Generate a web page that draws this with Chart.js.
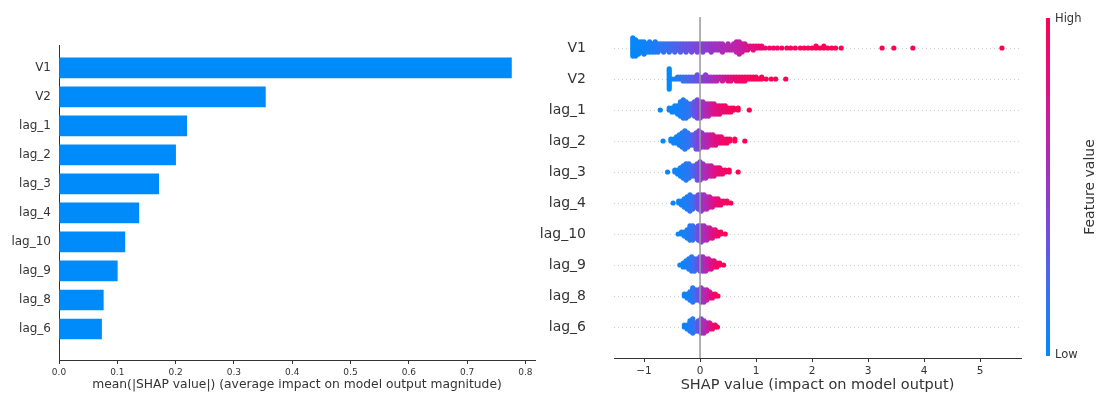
<!DOCTYPE html>
<html>
<head>
<meta charset="utf-8">
<script src="https://cdn.jsdelivr.net/npm/chart.js@4.4.1/dist/chart.umd.min.js"></script>
<style>
  html, body { margin: 0; padding: 0; background: #fff; }
  #wrap { position: relative; width: 1100px; height: 394px; overflow: hidden; background: #fff; }
  #bar { position: absolute; left: 0; top: 0; }
  #swarm { position: absolute; left: 530px; top: 0; }
</style>
</head>
<body>
<div id="wrap">
  <canvas id="bar" width="545" height="394"></canvas>
  <canvas id="swarm" width="570" height="394"></canvas>
</div>
<script>
// Features, in order of importance
const features = ['V1', 'V2', 'lag_1', 'lag_2', 'lag_3', 'lag_4', 'lag_10', 'lag_9', 'lag_8', 'lag_6'];

// mean(|SHAP value|) per feature
const meanAbsShap = [0.776, 0.354, 0.219, 0.200, 0.171, 0.137, 0.113, 0.100, 0.076, 0.073];

// Beeswarm rows: SHAP value of each column of dots, how many dots are stacked there,
// and the (normalised) feature value that colours them.
const V1_shap = [-1.20,-1.15,-1.10,-1.05,-1.00,-0.95,-0.90,-0.85,-0.80,-0.75,-0.70,-0.65,-0.60,-0.55,-0.50,-0.45,-0.40,-0.35,-0.30,-0.25,-0.20,-0.15,-0.10,-0.05,0.00,0.05,0.10,0.15,0.20,0.25,0.30,0.35,0.40,0.45,0.50,0.55,0.60,0.65,0.70,0.75,0.80,0.85,0.90,0.95,1.00,1.05,1.10,
                 1.16,1.24,1.31,1.38,1.46,1.55,1.62,1.70,1.79,1.86,1.93,2.00,2.07,2.14,2.21,2.28,2.35,2.42,2.52,3.25,3.46,3.80,5.39];
const V1_count = [10,9,7,6,7,5,6,5,6,5,4,5,4,5,4,5,4,5,4,5,4,5,4,5,4,5,4,4,5,4,4,4,5,3,4,3,4,6,7,5,4,3,2,3,2,2,2,
                 1,1,1,1,1,1,1,1,1,1,1,1,2,1,2,1,1,1,1,1,1,1,1];
const V1_feat = [0.02,0.02,0.03,0.04,0.05,0.06,0.07,0.08,0.10,0.12,0.14,0.16,0.18,0.20,0.22,0.24,0.26,0.28,0.30,0.32,0.34,0.36,0.38,0.40,0.42,0.44,0.46,0.48,0.50,0.52,0.54,0.56,0.58,0.60,0.61,0.62,0.63,0.65,0.67,0.70,0.73,0.76,0.79,0.82,0.85,0.87,0.88,
                 0.9,0.9,0.91,0.92,0.93,0.94,0.95,0.96,0.96,0.97,0.97,0.98,0.98,0.98,0.99,0.99,0.99,1,1,1,1,1,1];

const V2_shap = [-0.55,-0.50,-0.45,-0.40,-0.35,-0.30,-0.25,-0.20,-0.15,-0.10,-0.05,0.00,0.05,0.10,0.15,0.20,0.25,0.30,0.35,0.40,0.45,0.50,0.55,0.60,0.65,0.70,0.75,0.80,0.85,0.90,0.95,1.00,1.05,1.10,1.18,1.27,1.35,1.53];
const V2_count = [11,1,1,2,2,3,3,3,3,3,4,3,3,4,3,3,3,3,2,3,2,3,3,2,3,3,3,3,2,2,2,2,1,2,1,1,1,1];
const V2_feat = [0.0,0.08,0.1,0.12,0.15,0.18,0.2,0.23,0.26,0.3,0.34,0.38,0.42,0.46,0.5,0.54,0.58,0.62,0.66,0.7,0.74,0.78,0.82,0.85,0.88,0.9,0.92,0.94,0.95,0.96,0.97,0.98,0.98,0.99,1,1,1,1];

const lag1_shap = [-0.71,-0.55,-0.50,-0.45,-0.40,-0.35,-0.30,-0.25,-0.20,-0.15,-0.10,-0.05,0.00,0.05,0.10,0.15,0.20,0.25,0.30,0.35,0.40,0.45,0.50,0.55,0.60,0.68,0.88];
const lag1_count = [1,2,3,4,5,8,10,9,7,6,8,10,9,8,7,7,6,6,5,5,4,4,3,3,2,2,1];
const lag1_feat = [0.02,0.03,0.04,0.05,0.06,0.08,0.1,0.12,0.16,0.22,0.3,0.38,0.45,0.52,0.58,0.64,0.7,0.76,0.8,0.84,0.88,0.9,0.93,0.95,0.97,0.98,1];

const lag2_shap = [-0.66,-0.52,-0.47,-0.42,-0.37,-0.32,-0.27,-0.22,-0.17,-0.12,-0.07,-0.02,0.03,0.08,0.13,0.18,0.23,0.28,0.33,0.38,0.43,0.48,0.53,0.62,0.80];
const lag2_count = [1,2,3,4,6,8,10,8,6,6,9,10,8,7,7,6,6,5,4,4,3,3,2,2,1];
const lag2_feat = [0.02,0.03,0.05,0.06,0.08,0.1,0.12,0.15,0.2,0.26,0.34,0.42,0.5,0.56,0.62,0.68,0.74,0.8,0.84,0.88,0.9,0.93,0.95,0.97,1];

const lag3_shap = [-0.58,-0.45,-0.40,-0.35,-0.30,-0.25,-0.20,-0.15,-0.10,-0.05,0.00,0.05,0.10,0.15,0.20,0.25,0.30,0.35,0.40,0.45,0.52,0.68];
const lag3_count = [1,2,3,5,7,9,8,6,6,9,10,8,7,6,6,5,4,4,3,2,2,1];
const lag3_feat = [0.02,0.04,0.05,0.07,0.09,0.11,0.14,0.18,0.25,0.33,0.42,0.5,0.57,0.64,0.7,0.76,0.82,0.86,0.9,0.93,0.96,1];

const lag4_shap = [-0.48,-0.38,-0.33,-0.28,-0.23,-0.18,-0.13,-0.08,-0.03,0.02,0.07,0.12,0.17,0.22,0.27,0.32,0.37,0.42,0.48,0.55];
const lag4_count = [1,2,3,5,7,9,7,6,8,9,8,7,6,5,4,4,3,2,2,1];
const lag4_feat = [0.02,0.04,0.06,0.08,0.1,0.13,0.18,0.26,0.35,0.44,0.52,0.6,0.67,0.74,0.8,0.85,0.9,0.93,0.96,1];

const lag10_shap = [-0.39,-0.33,-0.28,-0.23,-0.18,-0.13,-0.08,-0.03,0.02,0.07,0.12,0.17,0.22,0.27,0.32,0.37,0.45];
const lag10_count = [1,2,3,5,8,8,6,8,9,8,7,6,5,4,3,2,1];
const lag10_feat = [0.03,0.05,0.07,0.09,0.12,0.17,0.25,0.34,0.44,0.53,0.62,0.7,0.77,0.84,0.9,0.94,1];

const lag9_shap = [-0.36,-0.30,-0.25,-0.20,-0.15,-0.10,-0.05,0.00,0.05,0.10,0.15,0.20,0.25,0.30,0.35,0.42];
const lag9_count = [1,3,4,6,8,7,6,8,8,7,6,5,4,3,2,1];
const lag9_feat = [0.03,0.05,0.07,0.1,0.14,0.2,0.3,0.4,0.5,0.6,0.68,0.76,0.83,0.9,0.95,1];

const lag8_shap = [-0.28,-0.23,-0.18,-0.13,-0.08,-0.03,0.02,0.07,0.12,0.17,0.22,0.27,0.32];
const lag8_count = [2,3,5,8,6,6,8,7,6,4,3,2,1];
const lag8_feat = [0.04,0.06,0.09,0.13,0.2,0.3,0.42,0.54,0.65,0.75,0.84,0.92,1];

const lag6_shap = [-0.28,-0.23,-0.18,-0.13,-0.08,-0.03,0.02,0.07,0.12,0.17,0.22,0.27,0.31];
const lag6_count = [2,3,6,8,5,6,8,7,5,4,3,2,1];
const lag6_feat = [0.04,0.06,0.09,0.13,0.2,0.3,0.42,0.54,0.65,0.75,0.84,0.92,1];

const rows = [
  [V1_shap, V1_count, V1_feat],
  [V2_shap, V2_count, V2_feat],
  [lag1_shap, lag1_count, lag1_feat],
  [lag2_shap, lag2_count, lag2_feat],
  [lag3_shap, lag3_count, lag3_feat],
  [lag4_shap, lag4_count, lag4_feat],
  [lag10_shap, lag10_count, lag10_feat],
  [lag9_shap, lag9_count, lag9_feat],
  [lag8_shap, lag8_count, lag8_feat],
  [lag6_shap, lag6_count, lag6_feat]
];

// ---- styling ----
const FONT = "'DejaVu Sans', 'Liberation Sans', sans-serif";
const TEXT = '#333333';
const SHAP_BLUE = '#008bfb';

// blue -> purple -> red colour map
const cmapStops = [
  [0.00, [0, 139, 251]],
  [0.20, [60, 110, 240]],
  [0.35, [110, 80, 225]],
  [0.50, [150, 55, 200]],
  [0.65, [190, 35, 170]],
  [0.80, [225, 15, 130]],
  [1.00, [255, 0, 82]]
];
function cmap(t) {
  t = Math.max(0, Math.min(1, t));
  for (let i = 1; i < cmapStops.length; i++) {
    const [t1, c1] = cmapStops[i];
    const [t0, c0] = cmapStops[i - 1];
    if (t <= t1) {
      const f = (t - t0) / (t1 - t0);
      const c = c0.map((v, k) => Math.round(v + (c1[k] - v) * f));
      return `rgb(${c[0]},${c[1]},${c[2]})`;
    }
  }
  return 'rgb(255,0,82)';
}

// fixed-width vertical axis that does not push the plot area down
function fixedYAxis(width) {
  return s => { s.width = width; s.paddingTop = 0; s.paddingBottom = 0; };
}

// ---- left: mean |SHAP| bar chart ----
new Chart(document.getElementById('bar'), {
  type: 'bar',
  data: {
    datasets: [{
      data: features.map((f, i) => ({ x: meanAbsShap[i], y: i })),
      backgroundColor: SHAP_BLUE,
      borderWidth: 0,
      barThickness: 20
    }]
  },
  options: {
    indexAxis: 'y',
    responsive: false,
    animation: false,
    devicePixelRatio: 1,
    layout: { padding: { left: 0, right: 10, top: 45, bottom: 0 } },
    plugins: { legend: { display: false }, tooltip: { enabled: false } },
    scales: {
      x: {
        type: 'linear',
        offset: false,
        min: 0,
        max: 0.8164,
        ticks: {
          stepSize: 0.1,
          includeBounds: false,
          color: TEXT,
          font: { family: FONT, size: 9 },
          padding: 3,
          callback: v => v.toFixed(1)
        },
        grid: { drawOnChartArea: false, drawTicks: true, tickLength: 4, tickColor: TEXT },
        border: { display: true, color: TEXT, width: 1 },
        title: {
          display: true,
          text: 'mean(|SHAP value|) (average impact on model output magnitude)',
          color: TEXT,
          font: { family: FONT, size: 12.3 },
          padding: { top: 0, bottom: 2 }
        },
        afterFit: s => { s.height = 34; }
      },
      y: {
        type: 'linear',
        offset: false,
        reverse: true,
        min: -0.79,
        max: 10.07,
        afterBuildTicks: s => { s.ticks = features.map((f, i) => ({ value: i })); },
        ticks: {
          autoSkip: false,
          color: TEXT,
          font: { family: FONT, size: 12 },
          padding: 8,
          callback: v => features[Math.round(v)]
        },
        grid: { display: false, drawTicks: false },
        border: { display: true, color: TEXT, width: 1 },
        afterFit: fixedYAxis(59)
      }
    }
  }
});

// ---- right: beeswarm of SHAP values ----
const STACK = 0.065; // vertical spacing of stacked dots, in row units
const points = [];
const colors = [];
rows.forEach(([xs, ns, cs], r) => {
  xs.forEach((x, j) => {
    for (let k = 0; k < ns[j]; k++) {
      const off = Math.ceil(k / 2) * (k % 2 ? -1 : 1) * STACK;
      points.push({ x: x, y: r + off });
      colors.push(cmap(cs[j]));
    }
  });
});

const colorbar = {
  id: 'colorbar',
  afterDraw(chart) {
    const ctx = chart.ctx;
    const x0 = 516, w = 4, top = 18, bottom = 356;
    const g = ctx.createLinearGradient(0, bottom, 0, top);
    cmapStops.forEach(([t]) => g.addColorStop(t, cmap(t)));
    ctx.save();
    ctx.fillStyle = g;
    ctx.fillRect(x0, top, w, bottom - top);
    ctx.fillStyle = TEXT;
    ctx.font = `11.5px ${FONT}`;
    ctx.textAlign = 'left';
    ctx.textBaseline = 'middle';
    ctx.fillText('High', x0 + 9, top + 1);
    ctx.fillText('Low', x0 + 9, bottom - 1);
    ctx.translate(560, 187);
    ctx.rotate(-Math.PI / 2);
    ctx.textAlign = 'center';
    ctx.font = `14px ${FONT}`;
    ctx.fillText('Feature value', 0, 0);
    ctx.restore();
  }
};

new Chart(document.getElementById('swarm'), {
  type: 'scatter',
  data: {
    datasets: [
      {
        type: 'line',
        data: [{ x: 0, y: -1 }, { x: 0, y: 10 }],
        borderColor: '#999999',
        borderWidth: 1.5,
        pointRadius: 0,
        order: 0
      },
      {
        data: points,
        backgroundColor: colors,
        borderWidth: 0,
        pointRadius: 2.6,
        pointHoverRadius: 2.6,
        order: 1
      }
    ]
  },
  options: {
    responsive: false,
    animation: false,
    devicePixelRatio: 1,
    layout: { padding: { left: 0, right: 79, top: 17, bottom: 0 } },
    plugins: { legend: { display: false }, tooltip: { enabled: false } },
    scales: {
      x: {
        type: 'linear',
        offset: false,
        min: -1.536,
        max: 5.73,
        ticks: {
          stepSize: 1,
          includeBounds: false,
          color: TEXT,
          font: { family: FONT, size: 10.5 },
          padding: 3,
          callback: v => (v < 0 ? '\u2212' + Math.abs(v) : String(v))
        },
        grid: { drawOnChartArea: false, drawTicks: true, tickLength: 4, tickColor: TEXT },
        border: { display: true, color: TEXT, width: 1 },
        title: {
          display: true,
          text: 'SHAP value (impact on model output)',
          color: TEXT,
          font: { family: FONT, size: 14.5 },
          padding: { top: 0, bottom: 0 }
        },
        afterFit: s => { s.height = 36; }
      },
      y: {
        type: 'linear',
        offset: false,
        reverse: true,
        min: -1,
        max: 10,
        afterBuildTicks: s => { s.ticks = features.map((f, i) => ({ value: i })); },
        ticks: {
          autoSkip: false,
          color: TEXT,
          font: { family: FONT, size: 14 },
          padding: 28,
          callback: v => features[Math.round(v)]
        },
        grid: { color: '#cccccc', lineWidth: 1, drawTicks: false },
        border: { display: false, dash: [1, 3] },
        afterFit: fixedYAxis(84)
      }
    }
  },
  plugins: [colorbar]
});
</script>
</body>
</html>
